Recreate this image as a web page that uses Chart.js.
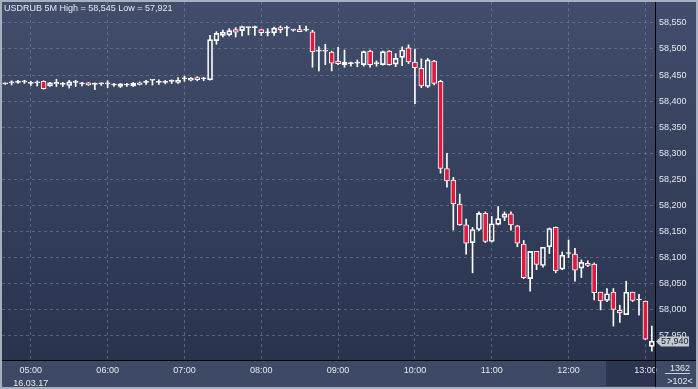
<!DOCTYPE html>
<html>
<head>
<meta charset="utf-8">
<script src="https://cdn.jsdelivr.net/npm/chart.js@4.4.1/dist/chart.umd.min.js"></script>
<style>
  html,body{margin:0;padding:0;background:#a9b0bd;}
  #wrap{position:relative;width:698px;height:389px;box-sizing:border-box;border:2px solid #a9b0bd;overflow:hidden;}
  #c{display:block;}
  .txt{position:absolute;font-family:'Liberation Sans',Arial,sans-serif;font-size:9px;color:#e4e8ef;white-space:nowrap;line-height:10px;}
  #title{left:2px;top:1px;}
  #cnt1{left:663px;top:361px;width:30px;text-align:center;}
  #cnt2{left:663px;top:374px;width:30px;text-align:center;}
  #uline{position:absolute;left:663px;top:371px;width:25px;height:1px;background:#c9ced8;}
</style>
</head>
<body>
<div id="wrap">
  <canvas id="c" width="694" height="385"></canvas>
  <div class="txt" id="title">USDRUB 5M High = 58,545 Low = 57,921</div>
  <div class="txt" id="cnt1">1362</div>
  <div id="uline"></div>
  <div class="txt" id="cnt2">&gt;102&lt;</div>
</div>
<script>
// ---- data (5-minute candles, 16.03.17) ----
const times = [
 '04:40','04:45','04:50','04:55','05:00','05:05','05:10','05:15','05:20','05:25','05:30','05:35',
 '05:40','05:45','05:50','05:55','06:00','06:05','06:10','06:15','06:20','06:25','06:30','06:35',
 '06:40','06:45','06:50','06:55','07:00','07:05','07:10','07:15','07:20','07:25','07:30','07:35',
 '07:40','07:45','07:50','07:55','08:00','08:05','08:10','08:15','08:20','08:25','08:30','08:35',
 '08:40','08:45','08:50','08:55','09:00','09:05','09:10','09:15','09:20','09:25','09:30','09:35',
 '09:40','09:45','09:50','09:55','10:00','10:05','10:10','10:15','10:20','10:25','10:30','10:35',
 '10:40','10:45','10:50','10:55','11:00','11:05','11:10','11:15','11:20','11:25','11:30','11:35',
 '11:40','11:45','11:50','11:55','12:00','12:05','12:10','12:15','12:20','12:25','12:30','12:35',
 '12:40','12:45','12:50','12:55','13:00','13:05'
];
const dateLabel = '16.03.17';
const openV = [
 58.433,58.435,58.436,58.437,58.434,58.435,58.438,58.429,58.433,58.432,58.430,58.436,
 58.433,58.435,58.432,58.433,58.433,58.431,58.428,58.431,58.429,58.432,58.436,58.440,
 58.436,58.436,58.438,58.436,58.443,58.440,58.445,58.443,58.441,58.516,58.526,58.527,
 58.537,58.535,58.541,58.541,58.537,58.531,58.531,58.541,58.540,58.536,58.537,58.536,
 58.533,58.496,58.496,58.494,58.477,58.470,58.472,58.473,58.470,58.496,58.472,58.470,
 58.496,58.471,58.484,58.502,58.475,58.463,58.428,58.477,58.438,58.271,58.249,58.203,
 58.163,58.129,58.154,58.185,58.131,58.164,58.177,58.184,58.161,58.126,58.060,58.112,
 58.085,58.121,58.158,58.078,58.108,58.107,58.080,58.089,58.088,58.034,58.018,58.034,
 57.999,57.991,58.034,58.019,58.017,57.930
];
const highV = [
 58.435,58.439,58.440,58.440,58.438,58.439,58.439,58.436,58.442,58.436,58.440,58.440,
 58.436,58.436,58.435,58.435,58.439,58.434,58.434,58.434,58.436,58.437,58.440,58.441,
 58.441,58.440,58.441,58.445,58.448,58.445,58.447,58.446,58.526,58.533,58.536,58.539,
 58.541,58.544,58.542,58.544,58.537,58.539,58.542,58.544,58.544,58.537,58.545,58.544,
 58.536,58.504,58.509,58.496,58.503,58.498,58.475,58.479,58.496,58.498,58.477,58.496,
 58.497,58.491,58.504,58.508,58.500,58.481,58.482,58.478,58.440,58.300,58.254,58.222,
 58.174,58.158,58.188,58.188,58.179,58.198,58.188,58.188,58.162,58.133,58.112,58.112,
 58.120,58.157,58.159,58.111,58.134,58.118,58.096,58.094,58.090,58.034,58.041,58.041,
 58.009,58.055,58.034,58.030,58.017,57.969
];
const lowV = [
 58.432,58.431,58.434,58.434,58.430,58.429,58.423,58.428,58.428,58.428,58.425,58.428,
 58.429,58.430,58.422,58.430,58.426,58.428,58.426,58.428,58.428,58.431,58.432,58.431,
 58.432,58.433,58.434,58.434,58.438,58.439,58.439,58.439,58.440,58.509,58.523,58.525,
 58.523,58.525,58.527,58.526,58.526,58.525,58.526,58.531,58.525,58.534,58.533,58.534,
 58.465,58.458,58.470,58.458,58.470,58.465,58.467,58.466,58.467,58.465,58.467,58.469,
 58.469,58.466,58.468,58.472,58.395,58.426,58.426,58.431,58.262,58.235,58.153,58.162,
 58.107,58.071,58.152,58.129,58.130,58.163,58.171,58.153,58.121,58.060,58.036,58.077,
 58.082,58.108,58.071,58.077,58.100,58.055,58.062,58.083,58.019,58.000,58.016,57.969,
 57.976,57.991,58.016,57.990,57.943,57.921
];
const closeV = [
 58.434,58.435,58.436,58.437,58.434,58.435,58.424,58.435,58.436,58.432,58.437,58.436,
 58.433,58.431,58.432,58.433,58.433,58.431,58.433,58.431,58.434,58.435,58.436,58.440,
 58.436,58.436,58.438,58.440,58.443,58.444,58.441,58.443,58.518,58.530,58.532,58.535,
 58.532,58.543,58.541,58.541,58.531,58.531,58.540,58.537,58.540,58.536,58.533,58.536,
 58.495,58.496,58.497,58.473,58.472,58.475,58.472,58.473,58.495,58.470,58.472,58.495,
 58.470,58.482,58.498,58.475,58.464,58.429,58.479,58.434,58.271,58.247,58.203,58.163,
 58.128,58.154,58.185,58.131,58.165,58.175,58.184,58.163,58.128,58.062,58.112,58.087,
 58.120,58.156,58.075,58.105,58.108,58.076,58.091,58.085,58.033,58.017,58.031,58.001,
 57.994,58.034,58.018,58.019,57.944,57.940
];
const yMin = 57.904, yMax = 58.590, yStep = 0.05;

// ---- derived datasets ----
const bodies = openV.map((o,i)=>[Math.min(o,closeV[i]), Math.max(o,closeV[i])]);
const wickLow = lowV.map((l,i)=>[l, Math.min(openV[i],closeV[i])]);
const wickHigh = highV.map((h,i)=>[Math.max(openV[i],closeV[i]), h]);
const RED = '#e2183e';
const bodyFill = openV.map((o,i)=> closeV[i] < o ? RED : 'rgba(0,0,0,0)');
const fmt = v => v.toFixed(3).replace('.', ',');

Chart.defaults.font.family = "'Liberation Sans', Arial, sans-serif";
Chart.defaults.font.size = 9;

const bgPlugin = {
  id: 'bg',
  beforeDraw(chart){
    const {ctx, chartArea:a, width:W, height:H} = chart;
    const xs = chart.scales.x;
    ctx.save();
    const g = ctx.createLinearGradient(0, 0, 0, a.bottom);
    g.addColorStop(0, '#414d6a');
    g.addColorStop(1, '#29334e');
    ctx.fillStyle = g;
    ctx.fillRect(0, 0, W, a.bottom);
    ctx.fillStyle = '#3d4965';
    ctx.fillRect(0, a.bottom, W, H - a.bottom);
    // shaded area behind the last hour label
    const xl = xs.getPixelForValue(100) - 38;
    ctx.fillStyle = '#2b3550';
    ctx.fillRect(xl, a.bottom + 1, a.right - xl, H - a.bottom - 2);
    ctx.fillStyle = '#252e46';
    ctx.fillRect(xl - 1, a.bottom + 1, 1, H - a.bottom - 2);
    ctx.restore();
  },
  afterDraw(chart){
    const {ctx, chartArea:a, width:W, height:H} = chart;
    const ys = chart.scales.y;
    ctx.save();
    ctx.fillStyle = '#000';
    ctx.fillRect(Math.round(a.right), 0, 1, H);
    ctx.fillRect(0, Math.round(a.bottom), W, 1);
    // last price tag
    const last = closeV[closeV.length - 1];
    const y = Math.round(ys.getPixelForValue(last)) + 0.5;
    const x0 = Math.round(a.right) + 1;
    ctx.beginPath();
    ctx.moveTo(x0, y);
    ctx.lineTo(x0 + 5, y - 5);
    ctx.lineTo(x0 + 33, y - 5);
    ctx.lineTo(x0 + 33, y + 5);
    ctx.lineTo(x0 + 5, y + 5);
    ctx.closePath();
    ctx.fillStyle = '#c4c8d0';
    ctx.fill();
    ctx.fillStyle = '#151b2a';
    ctx.font = "9px 'Liberation Sans', Arial, sans-serif";
    ctx.textBaseline = 'middle';
    ctx.textAlign = 'left';
    ctx.fillText(fmt(last), x0 + 5, y + 0.5);
    ctx.restore();
  }
};

new Chart(document.getElementById('c'), {
  type: 'bar',
  data: {
    labels: times,
    datasets: [
      { data: bodies, backgroundColor: bodyFill, borderColor: '#ffffff', borderWidth: 1,
        borderSkipped: false, barThickness: 5, minBarLength: 1, grouped: false, order: 0 },
      { data: wickHigh, backgroundColor: '#ffffff', borderWidth: 0,
        barThickness: 1, grouped: false, order: 1 },
      { data: wickLow, backgroundColor: '#ffffff', borderWidth: 0,
        barThickness: 1, grouped: false, order: 2 }
    ]
  },
  options: {
    responsive: false,
    animation: false,
    layout: { padding: 0 },
    plugins: { legend: { display: false }, tooltip: { enabled: false }, title: { display: false } },
    scales: {
      x: {
        type: 'category',
        offset: true,
        grid: { offset: false, color: 'rgba(120,134,165,0.55)', drawTicks: false, lineWidth: 1 },
        border: { display: false, dash: [3, 3] },
        ticks: {
          autoSkip: false, maxRotation: 0, minRotation: 0, padding: 4,
          font: { size: 9, lineHeight: 1.45 },
          color: c => (times[c.index] === '13:00' ? '#7c879c' : '#e4e8ef'),
          callback: (v, i) => {
            const t = times[i];
            if (!t.endsWith(':00')) return null;
            return i === 4 ? [t, dateLabel] : t;
          }
        },
        afterFit: s => { s.height = 27; s.paddingLeft = 0; s.paddingRight = 0; }
      },
      y: {
        position: 'right',
        min: yMin, max: yMax,
        grid: { color: 'rgba(120,134,165,0.55)', drawTicks: false, lineWidth: 1 },
        border: { display: false, dash: [3, 3] },
        ticks: {
          stepSize: yStep, includeBounds: false, padding: 4, color: '#e4e8ef',
          font: { size: 9 },
          callback: v => fmt(v)
        },
        afterFit: s => { s.width = 41; s.paddingTop = 0; s.paddingBottom = 0; }
      }
    }
  },
  plugins: [bgPlugin]
});
</script>
</body>
</html>
